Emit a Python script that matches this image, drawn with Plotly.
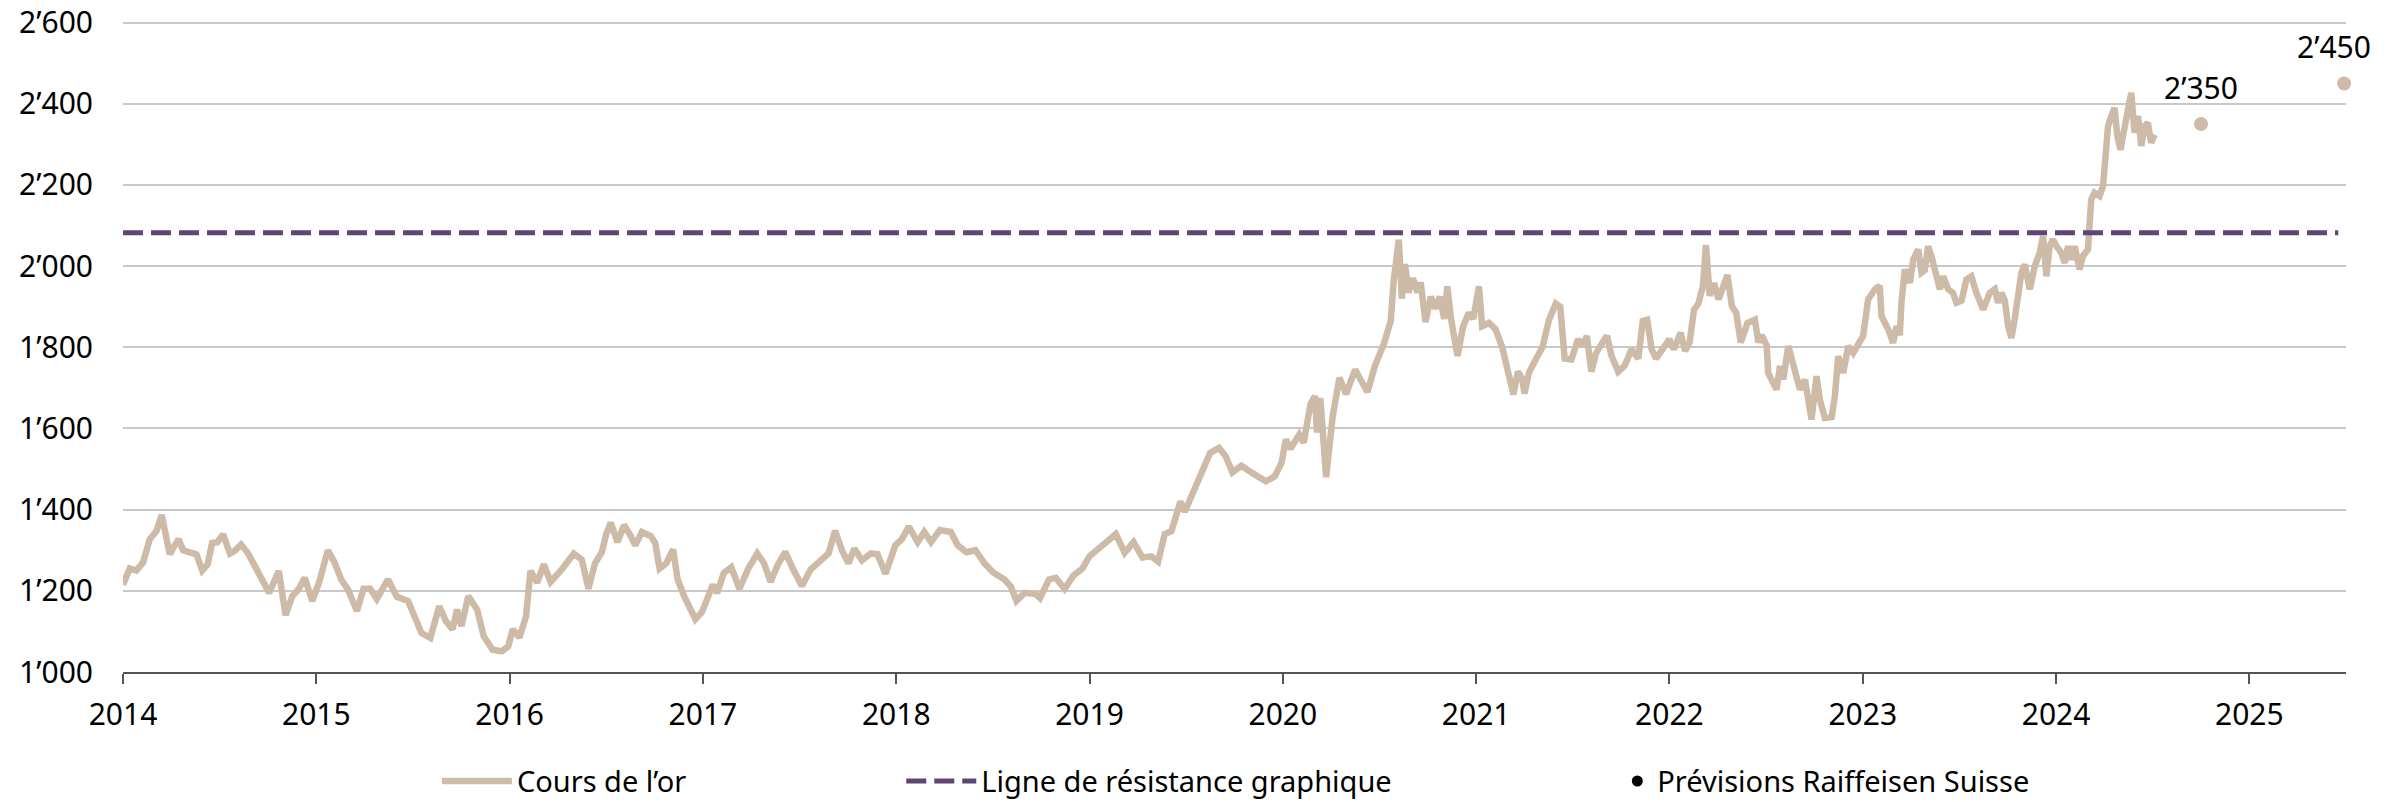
import plotly.graph_objects as go

# -----------------------------
# Gold price (USD/oz), x as decimal year
# -----------------------------
gold_year = [
    2014.000, 2014.018, 2014.035, 2014.069, 2014.104, 2014.138, 2014.173, 2014.200, 2014.219, 2014.242,
    2014.265, 2014.288, 2014.311, 2014.346, 2014.380, 2014.410, 2014.438, 2014.461, 2014.488, 2014.518,
    2014.553, 2014.576, 2014.611, 2014.645, 2014.680, 2014.714, 2014.756, 2014.806, 2014.841, 2014.876,
    2014.910, 2014.940, 2014.979, 2015.014, 2015.060, 2015.094, 2015.129, 2015.164, 2015.210, 2015.244,
    2015.279, 2015.313, 2015.371, 2015.417, 2015.475, 2015.544, 2015.590, 2015.636, 2015.671, 2015.705,
    2015.728, 2015.751, 2015.786, 2015.832, 2015.866, 2015.912, 2015.959, 2015.993, 2016.016, 2016.051,
    2016.085, 2016.108, 2016.143, 2016.177, 2016.212, 2016.270, 2016.332, 2016.373, 2016.408, 2016.442,
    2016.477, 2016.500, 2016.523, 2016.558, 2016.592, 2016.627, 2016.650, 2016.684, 2016.730, 2016.753,
    2016.776, 2016.811, 2016.846, 2016.869, 2016.903, 2016.961, 2016.995,
    2017.028, 2017.051, 2017.074, 2017.108, 2017.147, 2017.189, 2017.235, 2017.281, 2017.316, 2017.350,
    2017.385, 2017.426, 2017.465, 2017.512, 2017.558, 2017.604, 2017.650, 2017.684, 2017.719, 2017.753,
    2017.783, 2017.823, 2017.869, 2017.903, 2017.945, 2017.995, 2018.030, 2018.065, 2018.111, 2018.145,
    2018.180, 2018.226, 2018.283, 2018.318, 2018.364, 2018.410, 2018.456, 2018.502, 2018.560, 2018.594,
    2018.622, 2018.664, 2018.721, 2018.744, 2018.790, 2018.825, 2018.871, 2018.917, 2018.963, 2019.000,
    2019.032, 2019.067, 2019.136, 2019.182, 2019.228, 2019.274, 2019.320, 2019.355, 2019.389, 2019.424,
    2019.470, 2019.493, 2019.539,
    2019.589, 2019.624, 2019.670, 2019.704, 2019.739, 2019.785, 2019.843, 2019.912, 2019.958, 2019.993,
    2020.016, 2020.039, 2020.085, 2020.108, 2020.143, 2020.166, 2020.177, 2020.194, 2020.224, 2020.258,
    2020.293, 2020.327, 2020.374, 2020.408, 2020.438, 2020.477, 2020.524, 2020.558, 2020.574, 2020.600,
    2020.616, 2020.632, 2020.650, 2020.673, 2020.697, 2020.713, 2020.738, 2020.766, 2020.789, 2020.812,
    2020.835, 2020.851, 2020.870, 2020.904, 2020.932, 2020.962, 2020.985, 2021.015, 2021.031, 2021.066,
    2021.100, 2021.135, 2021.170, 2021.193, 2021.216, 2021.239, 2021.250, 2021.273, 2021.308, 2021.343,
    2021.377, 2021.412, 2021.435, 2021.458, 2021.493, 2021.527, 2021.550, 2021.573, 2021.596, 2021.620,
    2021.654, 2021.677, 2021.700, 2021.735, 2021.769, 2021.804, 2021.839, 2021.862, 2021.885, 2021.908,
    2021.931, 2021.966, 2022.000, 2022.023, 2022.058, 2022.081, 2022.104, 2022.127, 2022.150, 2022.173,
    2022.189, 2022.208, 2022.231, 2022.254, 2022.300, 2022.323, 2022.346, 2022.369, 2022.404,
    2022.442, 2022.460, 2022.477, 2022.503, 2022.511, 2022.537, 2022.554, 2022.572, 2022.589, 2022.615,
    2022.641, 2022.658, 2022.675, 2022.701, 2022.718, 2022.735, 2022.761, 2022.778, 2022.804, 2022.839,
    2022.856, 2022.873, 2022.899, 2022.925, 2022.951, 2022.976, 2023.002, 2023.028, 2023.063, 2023.088,
    2023.097, 2023.132, 2023.157, 2023.175, 2023.192, 2023.200, 2023.218, 2023.244, 2023.261, 2023.287,
    2023.304, 2023.321, 2023.338, 2023.355, 2023.381, 2023.399, 2023.416, 2023.442, 2023.467, 2023.485,
    2023.511, 2023.536, 2023.562, 2023.588, 2023.623, 2023.640, 2023.657, 2023.683, 2023.700, 2023.717,
    2023.735, 2023.752, 2023.769, 2023.786, 2023.803, 2023.821, 2023.838, 2023.864, 2023.890, 2023.915,
    2023.933, 2023.950, 2023.967, 2023.984, 2024.001, 2024.027, 2024.045, 2024.062, 2024.079, 2024.096,
    2024.122, 2024.139, 2024.165, 2024.182, 2024.199, 2024.225, 2024.243, 2024.251, 2024.269, 2024.286,
    2024.303, 2024.317, 2024.334, 2024.346, 2024.363, 2024.380, 2024.389, 2024.406, 2024.424, 2024.441,
    2024.458, 2024.475, 2024.492, 2024.510,
]
gold_price = [
    1215, 1235, 1255, 1250, 1270, 1327, 1347, 1387, 1340, 1290,
    1310, 1327, 1300, 1295, 1290, 1250, 1265, 1318, 1320, 1339,
    1292, 1298, 1314, 1294, 1262, 1228, 1195, 1249, 1140, 1187,
    1205, 1232, 1175, 1220, 1300, 1270, 1228, 1203, 1150, 1205,
    1205, 1180, 1228, 1185, 1175, 1096, 1084, 1162, 1125, 1105,
    1154, 1113, 1187, 1154, 1088, 1055, 1051, 1063, 1105, 1085,
    1137, 1249, 1220, 1265, 1222, 1253, 1292, 1277, 1205, 1268,
    1295, 1340, 1368, 1320, 1362, 1335, 1312, 1345, 1335, 1318,
    1255, 1268, 1302, 1228, 1187, 1130, 1148,
    1187, 1215, 1195, 1244, 1258, 1205, 1255, 1292, 1268, 1222,
    1262, 1296, 1255, 1212, 1253, 1270, 1292, 1348, 1300, 1268,
    1304, 1275, 1292, 1290, 1242, 1312, 1328, 1358, 1320, 1345,
    1320, 1350, 1345, 1312, 1295, 1300, 1268, 1245, 1228, 1210,
    1175, 1195, 1192, 1182, 1228, 1232, 1205, 1238, 1255, 1285,
    1298, 1310, 1340, 1294, 1320, 1282, 1285, 1272, 1340, 1347,
    1420, 1395, 1445,
    1505, 1540, 1552, 1532, 1492, 1508, 1490, 1470, 1482, 1515,
    1573, 1550, 1585, 1565, 1660, 1680, 1590, 1675, 1480, 1630,
    1725, 1685, 1745, 1712, 1690, 1755, 1810, 1865, 1965, 2065,
    1920, 2005, 1935, 1970, 1935, 1960, 1862, 1925, 1895, 1925,
    1870, 1950, 1870, 1779, 1850, 1885, 1870, 1950, 1852, 1860,
    1845, 1800, 1720, 1684, 1740, 1722, 1686, 1737, 1770, 1800,
    1868, 1908, 1900, 1772, 1770, 1820, 1803, 1828, 1740, 1785,
    1812, 1828, 1780, 1740, 1755, 1795, 1772, 1865, 1868, 1795,
    1772, 1795, 1820, 1795, 1836, 1791, 1812, 1892, 1908, 1950,
    2052, 1927, 1958, 1918, 1978, 1902, 1884, 1812, 1860,
    1868, 1812, 1830, 1805, 1737, 1712, 1696, 1754, 1721, 1803,
    1754, 1737, 1696, 1720, 1663, 1622, 1729, 1671, 1626, 1628,
    1680, 1778, 1737, 1803, 1786, 1811, 1828, 1918, 1943, 1951,
    1877, 1844, 1811, 1852, 1830, 1910, 1992, 1959, 2016, 2041,
    1984, 1990, 2049, 2025, 1984, 1943, 1975, 1943, 1934, 1910,
    1915, 1967, 1975, 1934, 1893, 1910, 1934, 1943, 1910, 1934,
    1915, 1852, 1823, 1869, 1934, 1984, 2004, 1943, 2000, 2033,
    2074, 1975, 2049, 2066, 2050, 2033, 2008, 2049, 2016, 2049,
    1992, 2025, 2041, 2164, 2181, 2173, 2197, 2255, 2345, 2370,
    2390, 2320, 2287, 2320, 2361, 2419, 2427, 2329, 2370, 2296,
    2345, 2353, 2304, 2324,
]

# Resistance line
resistance_year = [2014.0, 2025.46]
resistance_level = [2082, 2082]

# Raiffeisen forecasts
forecast_year = [2024.75, 2025.49]
forecast_price = [2350, 2450]
forecast_label = ["2’350", "2’450"]

GOLD = "#cdbba8"
PURPLE = "#5f4477"
FONT = "Noto Sans"

fig = go.Figure()

fig.add_trace(go.Scatter(
    x=gold_year, y=gold_price, mode="lines",
    line=dict(color=GOLD, width=6.5),
    name="Cours de l’or", legend="legend",
))

fig.add_trace(go.Scatter(
    x=resistance_year, y=resistance_level, mode="lines",
    line=dict(color=PURPLE, width=5, dash="20px,8px"),
    name="Ligne de résistance graphique", legend="legend2",
))

fig.add_trace(go.Scatter(
    x=forecast_year, y=forecast_price, mode="markers",
    marker=dict(color=GOLD, size=14),
    cliponaxis=False, showlegend=False,
))

# legend entry for the forecasts is a black dot
fig.add_trace(go.Scatter(
    x=[None], y=[None], mode="markers",
    marker=dict(color="black", size=11),
    name="Prévisions Raiffeisen Suisse", legend="legend3",
))

# value labels above the forecast dots
for i, (xv, yv, lab) in enumerate(zip(forecast_year, forecast_price, forecast_label)):
    fig.add_annotation(
        x=xv, y=yv, text=lab, showarrow=False,
        yshift=37, xshift=-10 if i == len(forecast_year) - 1 else 0,
        font=dict(family=FONT, size=30, color="black"),
    )

legend_style = dict(
    orientation="h", y=-0.1285, yanchor="top", xanchor="left",
    font=dict(family=FONT, size=29, color="black"),
    bgcolor="rgba(0,0,0,0)",
)

fig.update_layout(
    width=2404, height=802,
    margin=dict(l=123, r=58, t=21, b=130, autoexpand=False),
    plot_bgcolor="white", paper_bgcolor="white",
    font=dict(family=FONT, size=30, color="black"),
    separators=".’",
    legend=dict(x=0.1412, itemwidth=70, **legend_style),
    legend2=dict(x=0.3501, itemwidth=70, **legend_style),
    legend3=dict(x=0.6722, **legend_style),
)

fig.update_xaxes(
    range=[2014, 2025.5], tick0=2014, dtick=1, tickformat="d",
    showgrid=False, zeroline=False, automargin=False,
    showline=True, linecolor="#555555", linewidth=1.5,
    ticks="outside", ticklen=10, tickcolor="#555555", tickwidth=1.5,
    ticklabelstandoff=5,
    tickfont=dict(family=FONT, size=30, color="black"),
)

fig.update_yaxes(
    range=[1000, 2604], tickvals=[1000, 1200, 1400, 1600, 1800, 2000, 2200, 2400, 2600],
    tickformat=",d",
    showgrid=True, gridcolor="#c8c8c8", gridwidth=1.5,
    zeroline=False, showline=False, ticks="", automargin=False,
    ticklabelstandoff=29, ticklabeloverflow="allow",
    tickfont=dict(family=FONT, size=30, color="black"),
)

# drop the default 8px page margin so the figure fills the window
fig.write_html(
    "out.html",
    config={"displayModeBar": False},
    post_script="document.body.style.margin='0';",
)
